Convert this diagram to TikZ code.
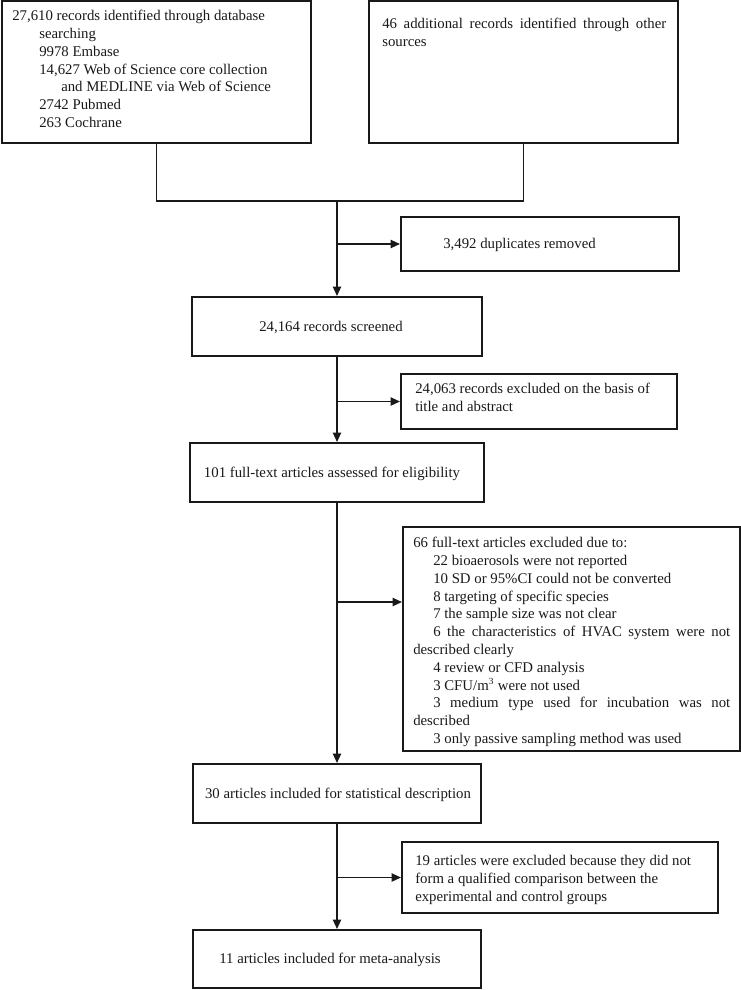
\documentclass[tikz,border=0pt]{standalone}
\usepackage{fontspec}
\setmainfont{Liberation Serif}
\usetikzlibrary{arrows.meta,fit,calc}
\newcommand{\flowfont}{\fontsize{11.1pt}{13.35pt}\selectfont}
\begin{document}
\begin{tikzpicture}[x=0.75pt,y=-0.75pt,
  box/.style={draw=black!90, line width=1.4pt, rectangle, inner sep=0pt},
  txt/.style={inner sep=0pt, align=left, font=\flowfont, text=black!90, anchor=north west},
  ctxt/.style={inner sep=0pt, font=\flowfont, text=black!90},
  ln/.style={draw=black!90, line width=1.4pt},
  arr/.style={draw=black!90, line width=1.4pt, -{Triangle[length=7pt,width=6pt]}}]
\useasboundingbox (0,0) rectangle (741,990);

% boxes
\node[box, fit={(2,1) (311,143)}] (b1) {};
\node[box, fit={(369,1) (678,143)}] (b2) {};
\node[box, fit={(401,217) (679,271)}] (dup) {};
\node[box, fit={(192,297) (482,356)}] (scr) {};
\node[box, fit={(401,374) (677,429)}] (ex1) {};
\node[box, fit={(190,443) (484,502)}] (ft) {};
\node[box, fit={(403,527) (740,751)}] (ex66) {};
\node[box, fit={(193,764) (481,823)}] (st) {};
\node[box, fit={(402,842) (718,913)}] (ex19) {};
\node[box, fit={(193,930) (481,988)}] (ma) {};

% texts
\node[txt] (t1) at (12,10) {27,610 records identified through database\\
\hspace*{20.25pt}searching\\
\hspace*{20.25pt}9978 Embase\\
\hspace*{20.25pt}14,627 Web of Science core collection\\
\hspace*{36.75pt}and MEDLINE via Web of Science\\
\hspace*{20.25pt}2742 Pubmed\\
\hspace*{20.25pt}263 Cochrane};

\node[txt] (t2) at (382,18) {\makebox[213pt][s]{46 additional records identified through other}\\
sources};

\node[ctxt, anchor=west] (tdup) at (443,245) {3,492 duplicates removed};
\node[ctxt] (tscr) at (331,327) {24,164 records screened};
\node[txt] (tex1) at (415,383) {24,063 records excluded on the basis of\\
title and abstract};
\node[ctxt] (tft) at (332,474) {101 full-text articles assessed for eligibility};
\node[txt] (tex66) at (413,537) {66 full-text articles excluded due to:\\
\hspace*{15pt}22 bioaerosols were not reported\\
\hspace*{15pt}10 SD or 95\%CI could not be converted\\
\hspace*{15pt}8 targeting of specific species\\
\hspace*{15pt}7 the sample size was not clear\\
\makebox[237.75pt][s]{\hspace*{15pt}6 the characteristics of HVAC system were not}\\
described clearly\\
\hspace*{15pt}4 review or CFD analysis\\
\hspace*{15pt}3 CFU/m\textsuperscript{\scriptsize 3} were not used\\
\makebox[237.75pt][s]{\hspace*{15pt}3 medium type used for incubation was not}\\
described\\
\hspace*{15pt}3 only passive sampling method was used};
\node[ctxt] (tst) at (338,795) {30 articles included for statistical description};
\node[txt] (tex19) at (415,855) {19 articles were excluded because they did not\\
form a qualified comparison between the\\
experimental and control groups};
\node[ctxt] (tma) at (330,960) {11 articles included for meta-analysis};

% connectors
\coordinate (J) at (337,201);
\coordinate (k66) at (337,602);
\draw[ln] (b1.south) |- (J) -| (b2.south);
\draw[arr] (J) -- (scr.north);
\draw[arr] (J |- dup.west) -- (dup.west);
\draw[arr] (scr.south) -- (ft.north);
\draw[arr] (scr.south |- ex1.west) -- (ex1.west);
\draw[arr] (ft.south) -- (st.north);
\draw[arr] (k66) -- (k66 -| ex66.west);
\draw[arr] (st.south) -- (ma.north);
\draw[arr] (st.south |- ex19.west) -- (ex19.west);
\end{tikzpicture}
\end{document}
